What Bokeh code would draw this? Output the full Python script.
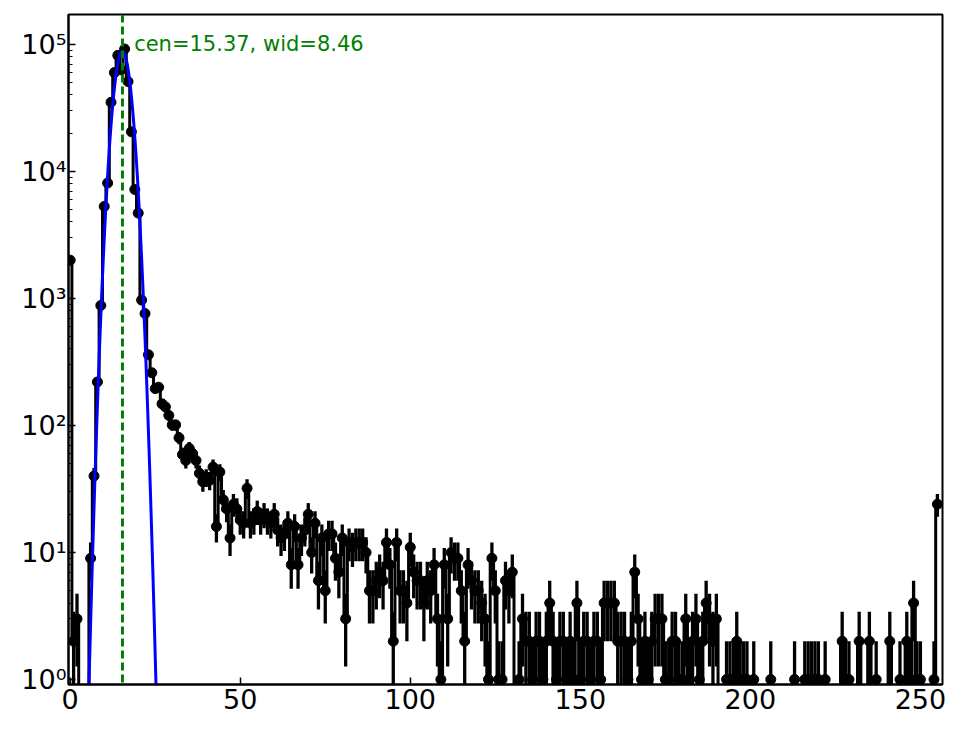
import numpy as np
from bokeh.plotting import figure
from bokeh.models import Range1d, FixedTicker, Span, Label, ColumnDataSource, CustomJSTickFormatter
from bokeh.embed import file_html
from bokeh.resources import INLINE

# ---- data -------------------------------------------------------------
bin_index = list(range(256))
counts = [
    2000, 2, 3, 0, 0, 0, 9, 40, 220, 880,                              # 0-9
    5300, 8100, 35000, 60000, 82000, 63000, 92000, 51000, 20500, 7200,   # 10-19
    4700, 970, 760, 360, 260, 195, 200, 148, 140, 120,                  # 20-29
    101, 101, 80, 59, 53, 66, 60, 53, 42, 36,                           # 30-39
    39, 37, 47, 16, 43, 26, 22, 13, 24, 22,                             # 40-49
    18, 17, 32, 17, 18, 21, 18, 20, 18, 17,                             # 50-59
    20, 15, 13, 14, 17, 8, 16, 8, 13, 15,                               # 60-69
    20, 10, 17, 6, 13, 5, 14, 14, 9, 7,                                 # 70-79
    13, 3, 12, 11, 12, 12, 12, 10, 5, 5,                                # 80-89
    6, 7, 6, 12, 8, 2, 12, 5, 5, 4,                                     # 90-99
    11, 7, 6, 6, 4, 6, 5, 8, 3, 1,                                      # 100-109
    8, 3, 10, 9, 9, 5, 2, 8, 6, 5,                                      # 110-119
    5, 4, 3, 1, 9, 5, 1, 1, 6, 5,                                       # 120-129
    7, 0, 1, 3, 2, 2, 1, 2, 2, 1,                                       # 130-139
    2, 4, 2, 1, 2, 2, 1, 2, 1, 4,                                       # 140-149
    1, 2, 2, 1, 2, 2, 1, 4, 4, 4,                                       # 150-159
    4, 2, 2, 2, 1, 2, 7, 3, 1, 2,                                       # 160-169
    1, 2, 3, 3, 3, 1, 1, 2, 2, 1,                                       # 170-179
    1, 3, 1, 2, 3, 1, 2, 4, 3, 2,                                       # 180-189
    3, 0, 0, 1, 1, 1, 2, 1, 1, 1,                                       # 190-199
    0, 1, 0, 0, 0, 0, 1, 0, 0, 0,                                       # 200-209
    0, 0, 0, 1, 0, 0, 1, 1, 1, 1,                                       # 210-219
    1, 0, 1, 0, 0, 0, 0, 2, 1, 1,                                       # 220-229
    0, 0, 2, 0, 0, 2, 0, 1, 0, 0,                                       # 230-239
    0, 2, 0, 0, 1, 0, 2, 1, 4, 1,                                       # 240-249
    1, 0, 0, 0, 1, 24,                                                  # 250-255
]

# Gaussian fit parameters (model: amp * exp(-(x-cen)^2 / wid))
fit_amp = 88000.0
fit_cen = 15.37
fit_wid = 8.46
fit_label = "cen=15.37, wid=8.46"

x_ticks = [0, 50, 100, 150, 200, 250]
y_ticks = [1, 10, 100, 1000, 10000, 100000]

# ---- derived ----------------------------------------------------------
FLOOR = 1e-3
x = np.array(bin_index, dtype=float)
y = np.array(counts, dtype=float)
err = np.sqrt(y)
nz = y > 0
lo = np.where(y - err > 0, y - err, FLOOR)
hi = y + err
step_y = np.where(nz, y, FLOOR)

pts = ColumnDataSource(dict(x=x[nz], y=y[nz], lo=lo[nz], hi=hi[nz]))

fx = np.linspace(-0.5, 256.5, 4000)
fy = np.maximum(fit_amp * np.exp(-(fx - fit_cen) ** 2 / fit_wid), FLOOR)

# ---- figure -----------------------------------------------------------
p = figure(width=958, height=724, y_axis_type="log",
           x_range=Range1d(-0.5, 256.5), y_range=Range1d(0.913, 1.72e5),
           output_backend="svg", toolbar_location=None,
           min_border_left=68, min_border_right=16, min_border_top=14, min_border_bottom=40)

p.step(x, step_y, mode="center", line_color="black", line_width=3)
p.segment(x0="x", y0="lo", x1="x", y1="hi", source=pts, line_color="black", line_width=3.3)
p.scatter("x", "y", source=pts, size=10, fill_color="black", line_color="black")

p.line(fx, fy, line_color="blue", line_width=3)

p.add_layout(Span(location=fit_cen, dimension="height", line_color="#008000",
                  line_width=3, line_dash="8 4"))
p.add_layout(Label(x=18.8, y=1e5, text=fit_label, text_color="#008000",
                   text_font_size="21px", text_font="DejaVu Sans",
                   text_baseline="alphabetic", text_align="left"))

# ---- axes styling -----------------------------------------------------
p.xgrid.grid_line_color = None
p.ygrid.grid_line_color = None
p.outline_line_color = "black"
p.outline_line_width = 2
p.outline_line_alpha = 1

minor = [k * 10 ** e for e in range(-1, 6) for k in range(2, 10)]
p.xaxis.ticker = FixedTicker(ticks=x_ticks)
p.yaxis.ticker = FixedTicker(ticks=y_ticks, minor_ticks=minor)
p.yaxis.formatter = CustomJSTickFormatter(code="""
    const sup = ['\u2070','\u00b9','\u00b2','\u00b3','\u2074','\u2075','\u2076','\u2077','\u2078','\u2079'];
    const e = Math.round(Math.log10(tick));
    return '10' + sup[e];
""")

for ax in (p.xaxis[0], p.yaxis[0]):
    ax.axis_line_color = "black"
    ax.axis_line_width = 2
    ax.major_tick_in = 7
    ax.major_tick_out = 0
    ax.major_tick_line_width = 1.5
    ax.major_tick_line_color = "black"
    ax.minor_tick_in = 4
    ax.minor_tick_out = 0
    ax.minor_tick_line_width = 1.2
    ax.minor_tick_line_color = "black"
    ax.major_label_text_font = "DejaVu Sans"
    ax.major_label_text_font_size = "27px"
    ax.major_label_text_font_style = "normal"
    ax.major_label_text_color = "black"

p.xaxis.minor_tick_line_color = None
p.xaxis.major_label_standoff = 4
p.yaxis.major_label_standoff = 2

open("out.html", "w").write(file_html(p, INLINE))
